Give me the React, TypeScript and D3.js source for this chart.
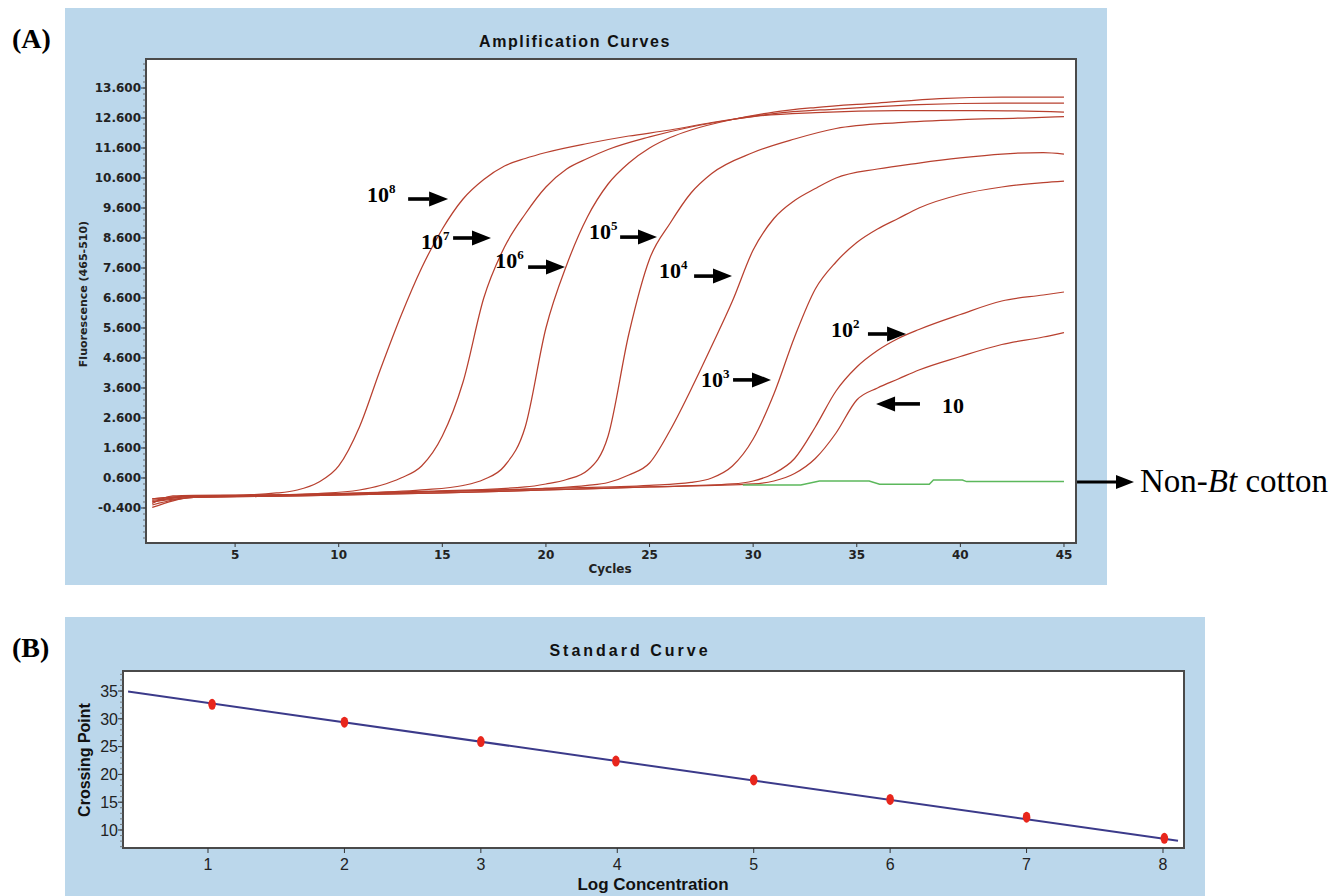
import React from 'react';
import * as d3 from 'd3';

type P = [number, number];

// ---------- Panel A data (cycle, fluorescence) ----------
const cycleTicks = [5, 10, 15, 20, 25, 30, 35, 40, 45];
const fluorTicks = [-0.4, 0.6, 1.6, 2.6, 3.6, 4.6, 5.6, 6.6, 7.6, 8.6, 9.6, 10.6, 11.6, 12.6, 13.6];

const amp1e8: P[] = [[1,-0.25],[2,0.0],[3,0.02],[5,0.03],[7,0.1],[8,0.2],[9,0.45],[10,1.0],[11,2.3],[12,4.2],[13,6.0],[14,7.6],[15,8.9],[16,9.9],[17,10.55],[18,11.0],[19,11.25],[20,11.45],[22,11.75],[24,12.0],[26,12.2],[28,12.45],[30,12.65],[33,12.78],[37,12.85],[41,12.85],[45,12.8]];
const amp1e7: P[] = [[1,-0.1],[3,0.0],[6,0.02],[9,0.08],[11,0.2],[12,0.35],[13,0.6],[14,1.0],[15,2.0],[16,3.8],[17,6.6],[18,8.3],[19,9.4],[20,10.3],[21,10.9],[22,11.25],[23,11.55],[25,11.97],[27,12.3],[29,12.55],[31,12.75],[34,12.9],[38,13.05],[42,13.1],[45,13.1]];
const amp1e6: P[] = [[1,-0.2],[3,0.0],[6,0.02],[10,0.08],[14,0.2],[16,0.35],[17,0.55],[18,1.0],[19,2.3],[20,5.6],[21,7.7],[22,9.3],[23,10.4],[24,11.1],[25,11.6],[26,11.95],[27,12.2],[29,12.55],[31,12.8],[33,12.95],[36,13.1],[39,13.25],[42,13.3],[45,13.3]];
const amp1e5: P[] = [[1,-0.1],[3,0.0],[8,0.05],[14,0.15],[19,0.3],[20,0.4],[21,0.55],[22,0.85],[23,2.0],[24,5.4],[25,7.9],[26,9.1],[27,10.1],[28,10.75],[30,11.45],[32,11.9],[34,12.25],[37,12.45],[40,12.55],[43,12.6],[45,12.65]];
const amp1e4: P[] = [[1,-0.15],[3,-0.02],[6,0.0],[10,0.05],[15,0.15],[20,0.25],[22,0.35],[23,0.45],[24,0.7],[25,1.1],[26,2.2],[27,3.55],[28,5.0],[29,6.5],[30,8.2],[31,9.25],[32,9.85],[33,10.25],[34,10.6],[36,10.9],[38,11.1],[40,11.27],[42,11.4],[44,11.45],[45,11.4]];
const amp1e3: P[] = [[1,-0.2],[3,-0.05],[6,0.0],[10,0.05],[15,0.15],[20,0.25],[25,0.35],[27,0.45],[28,0.6],[29,1.0],[30,1.9],[31,3.4],[32,5.3],[33,6.9],[34,7.8],[35,8.45],[36,8.9],[37,9.25],[38,9.6],[40,10.05],[42,10.3],[44,10.45],[45,10.5]];
const amp1e2: P[] = [[1,-0.3],[3,-0.05],[8,0.0],[15,0.1],[20,0.2],[25,0.3],[29,0.4],[30,0.5],[31,0.75],[32,1.25],[33,2.3],[34,3.5],[35,4.3],[36,4.85],[37,5.25],[38,5.55],[40,6.05],[42,6.5],[44,6.7],[45,6.8]];
const amp1e1: P[] = [[1,-0.38],[3,-0.05],[8,0.0],[15,0.1],[20,0.2],[25,0.3],[30,0.4],[31,0.5],[32,0.75],[33,1.25],[34,2.1],[35,3.2],[36,3.6],[37,3.9],[38,4.2],[40,4.65],[42,5.05],[44,5.3],[45,5.45]];
const nonBt: P[] = [[29.5,0.37],[32.3,0.37],[33.2,0.5],[35.6,0.5],[36.1,0.39],[38.5,0.39],[38.7,0.53],[40.1,0.53],[40.3,0.48],[45,0.48]];

const redCurves = [amp1e8, amp1e7, amp1e6, amp1e5, amp1e4, amp1e3, amp1e2, amp1e1];

// annotation labels: base, exponent, text pos (cycle,value), arrow from/to cycle, arrow value
const annBase = ['10', '10', '10', '10', '10', '10', '10', '10'];
const annExp = ['8', '7', '6', '5', '4', '3', '2', ''];
const annText: P[] = [[11.37,9.8],[13.97,8.23],[17.55,7.6],[22.08,8.57],[25.46,7.27],[27.48,3.63],[33.76,5.3],[39.11,2.77]];
const annArrow: [number, number, number][] = [[13.35,15.28,9.9],[15.52,17.35,8.6],[19.14,20.92,7.63],[23.58,25.36,8.63],[27.15,28.98,7.33],[29.03,30.86,3.87],[35.54,37.38,5.4],[38.05,35.93,3.07]];

// ---------- Panel B data ----------
const logConc = [1.03, 2, 3, 3.99, 5, 6, 7, 8.01];
const crossingPoint = [32.6, 29.4, 25.9, 22.4, 19.0, 15.5, 12.3, 8.5];
const fitLine: P[] = [[0.414, 34.9], [8.11, 8.05]];
const logTicks = [1, 2, 3, 4, 5, 6, 7, 8];
const cpTicks = [10, 15, 20, 25, 30, 35];

const BLUE = '#bbd7eb';
const RED = '#b8402f';
const SANS = '"DejaVu Sans", Verdana, sans-serif';
const ARIAL = '"Liberation Sans", Arial, sans-serif';
const SERIF = '"Liberation Serif", "Times New Roman", serif';

function Arrow({ x1, x2, y, head = 19, half = 7.5, w = 3.6 }: { x1: number; x2: number; y: number; head?: number; half?: number; w?: number }) {
  const dir = x2 > x1 ? 1 : -1;
  const hx = x2 - dir * head;
  return (
    <g>
      <line x1={x1} y1={y} x2={hx} y2={y} stroke="#000" strokeWidth={w} />
      <path d={`M${hx},${y - half}L${x2},${y}L${hx},${y + half}Z`} fill="#000" />
    </g>
  );
}

export default function App() {
  // Panel A scales
  const xA = d3.scaleLinear().domain([0.7, 45.58]).range([146, 1076]);
  const yA = d3.scaleLinear().domain([-1.567, 14.567]).range([543, 59]);
  const lineA = d3.line<P>().x(d => xA(d[0])).y(d => yA(d[1])).curve(d3.curveMonotoneX);
  const lineG = d3.line<P>().x(d => xA(d[0])).y(d => yA(d[1]));
  const minorA = d3.range(-1.4, 14.6, 0.2);

  // Panel B scales
  const xB = d3.scaleLinear().domain([0.377, 8.154]).range([123, 1184]);
  const yB = d3.scaleLinear().domain([6.76, 38.6]).range([848, 671]);
  const lineB = d3.line<P>().x(d => xB(d[0])).y(d => yB(d[1]));
  const minorB = d3.range(7, 39, 1);

  return (
    <svg width={1335} height={896} style={{ position: 'absolute', left: 0, top: 0, background: '#fff' }}>
      {/* ===== Panel A ===== */}
      <text x={12} y={48} fontFamily={SERIF} fontWeight="bold" fontSize={28}>(A)</text>
      <rect x={65} y={8} width={1042} height={577} fill={BLUE} />
      <text x={575} y={47} textAnchor="middle" fontFamily={ARIAL} fontWeight="bold" fontSize={16} letterSpacing={1.6} fill="#111">Amplification Curves</text>
      <rect x={146} y={59} width={930} height={484} fill="#fff" stroke="#4a4a4a" strokeWidth={2} />
      {/* y axis ticks */}
      {minorA.map((v, i) => (
        <line key={'ma' + i} x1={143} x2={146} y1={yA(v)} y2={yA(v)} stroke="#555" strokeWidth={0.8} />
      ))}
      {fluorTicks.map(v => (
        <g key={'ya' + v}>
          <line x1={141} x2={146} y1={yA(v)} y2={yA(v)} stroke="#333" strokeWidth={1} />
          <text x={141} y={yA(v)} dy="0.36em" textAnchor="end" fontFamily={SANS} fontWeight="bold" fontSize={12} fill="#222">{v.toFixed(3)}</text>
        </g>
      ))}
      {cycleTicks.map(c => (
        <g key={'xa' + c}>
          <line x1={xA(c)} x2={xA(c)} y1={543} y2={547} stroke="#333" strokeWidth={1} />
          <text x={xA(c)} y={559} textAnchor="middle" fontFamily={SANS} fontWeight="bold" fontSize={12} fill="#222">{c}</text>
        </g>
      ))}
      <text x={610} y={573} textAnchor="middle" fontFamily={SANS} fontWeight="bold" fontSize={12} fill="#222">Cycles</text>
      <text transform="translate(87,294) rotate(-90)" textAnchor="middle" fontFamily={SANS} fontWeight="bold" fontSize={11} fill="#222">Fluorescence (465-510)</text>

      {/* curves */}
      {redCurves.map((d, i) => (
        <path key={'c' + i} d={lineA(d) || ''} fill="none" stroke={RED} strokeWidth={1.25} />
      ))}
      <path d={lineG(nonBt) || ''} fill="none" stroke="#5cb85c" strokeWidth={1.5} />

      {/* annotations */}
      {annBase.map((b, i) => (
        <g key={'an' + i}>
          <text x={xA(annText[i][0])} y={yA(annText[i][1])} fontFamily={SERIF} fontWeight="bold" fontSize={22} fill="#000">
            {b}
            {annExp[i] && <tspan fontSize={13} dy={-9}>{annExp[i]}</tspan>}
          </text>
          <Arrow x1={xA(annArrow[i][0])} x2={xA(annArrow[i][1])} y={yA(annArrow[i][2])} />
        </g>
      ))}
      <Arrow x1={xA(45.63)} x2={xA(48.38)} y={yA(0.47)} head={18} half={7} w={3} />
      <text x={xA(48.67)} y={yA(0.13)} fontFamily={SERIF} fontSize={33} fill="#000">
        Non-<tspan fontStyle="italic">Bt</tspan> cotton
      </text>

      {/* ===== Panel B ===== */}
      <text x={12} y={657} fontFamily={SERIF} fontWeight="bold" fontSize={28}>(B)</text>
      <rect x={65} y={617} width={1140} height={279} fill={BLUE} />
      <text x={630} y={656} textAnchor="middle" fontFamily={ARIAL} fontWeight="bold" fontSize={16} letterSpacing={3} fill="#111">Standard Curve</text>
      <rect x={123} y={671} width={1061} height={177} fill="#fff" stroke="#4a4a4a" strokeWidth={2} />
      {minorB.map(v => (
        <line key={'mb' + v} x1={120} x2={123} y1={yB(v)} y2={yB(v)} stroke="#666" strokeWidth={0.8} />
      ))}
      {cpTicks.map(v => (
        <g key={'yb' + v}>
          <line x1={118} x2={123} y1={yB(v)} y2={yB(v)} stroke="#333" strokeWidth={1} />
          <text x={118} y={yB(v)} dy="0.36em" textAnchor="end" fontFamily={ARIAL} fontSize={16} fill="#222">{v}</text>
        </g>
      ))}
      {logTicks.map(v => (
        <g key={'xb' + v}>
          <line x1={xB(v)} x2={xB(v)} y1={848} y2={853} stroke="#333" strokeWidth={1} />
          <text x={xB(v)} y={870} textAnchor="middle" fontFamily={ARIAL} fontSize={16} fill="#222">{v}</text>
        </g>
      ))}
      <text x={653} y={890} textAnchor="middle" fontFamily={ARIAL} fontWeight="bold" fontSize={17} fill="#111">Log Concentration</text>
      <text transform="translate(90,760) rotate(-90)" textAnchor="middle" fontFamily={ARIAL} fontWeight="bold" fontSize={16} fill="#111">Crossing Point</text>

      <path d={lineB(fitLine) || ''} fill="none" stroke="#3b3a8a" strokeWidth={2} />
      {logConc.map((l, i) => (
        <ellipse key={'pt' + i} cx={xB(l)} cy={yB(crossingPoint[i])} rx={3.8} ry={5.5} fill="#e8261c" />
      ))}
    </svg>
  );
}
